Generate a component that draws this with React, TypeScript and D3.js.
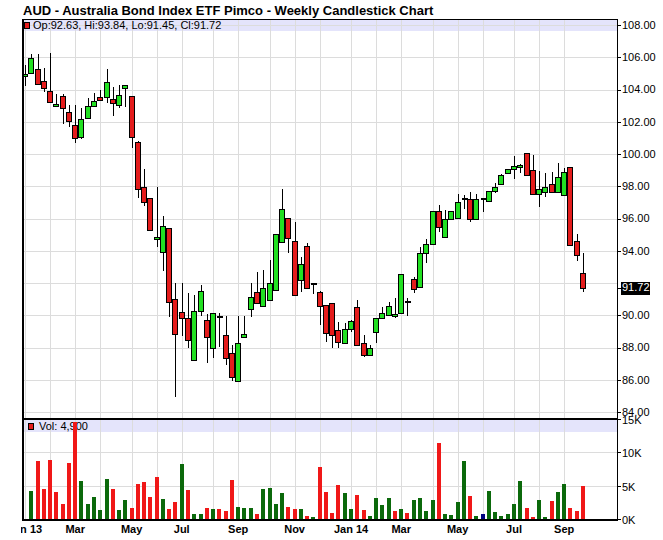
import React from "react";
import * as d3 from "d3";

const TITLE = "AUD - Australia Bond Index ETF Pimco - Weekly Candlestick Chart";
const START_DATE = new Date(2013, 0, 7);

const OPEN = [104.85, 105.0, 105.3, 104.51, 103.89, 102.96, 103.58, 102.6, 101.8, 101.04,
  102.21, 102.96, 103.52, 103.56, 103.39, 103.02, 104.07, 103.58, 100.76, 97.97,
  97.25, 94.75, 93.9, 95.4, 91.0, 90.18, 89.81, 87.22, 90.26, 89.7,
  87.95, 89.91, 88.76, 87.64, 85.94, 88.63, 90.37, 91.46, 90.59, 90.95,
  91.57, 94.52, 96.01, 94.6, 92.16, 94.28, 91.92, 91.42, 90.64, 90.74,
  89.07, 88.26, 89.13, 90.51, 88.26, 87.53, 88.94, 89.81, 89.99, 89.95,
  90.12, 90.84, 92.27, 91.73, 93.84, 94.4, 96.47, 94.83, 95.95, 96.01,
  97.2, 97.23, 95.95, 97.23, 97.1, 97.73, 98.12, 98.8, 99.05, 99.21,
  100.04, 99.0, 97.52, 97.63, 98.14, 97.66, 97.46, 99.17, 94.6, 92.63];
const HIGH = [105.5, 106.2, 106.2, 105.31, 106.24, 103.7, 103.7, 103.04, 103.04, 102.83,
  103.45, 103.76, 104.0, 105.25, 104.18, 104.28, 104.3, 103.58, 100.8, 99.05,
  97.25, 97.93, 96.15, 95.4, 91.98, 92.02, 91.38, 91.26, 91.88, 90.08,
  90.12, 90.12, 89.95, 88.16, 89.95, 89.95, 92.0, 92.66, 92.81, 93.43,
  95.02, 97.81, 96.01, 95.8, 93.6, 94.5, 91.92, 91.5, 90.64, 90.74,
  89.6, 89.5, 89.7, 90.95, 88.78, 88.16, 89.81, 90.49, 90.84, 91.09,
  92.54, 91.09, 92.4, 94.25, 94.71, 96.48, 96.84, 96.53, 96.47, 97.52,
  97.45, 97.62, 97.55, 97.23, 97.7, 98.22, 98.75, 99.1, 99.88, 99.4,
  100.04, 99.94, 98.95, 98.8, 98.9, 99.46, 99.11, 99.17, 95.04, 93.84];
const LOW = [104.2, 104.94, 104.3, 103.86, 103.14, 102.96, 101.84, 101.66, 100.7, 100.91,
  102.21, 102.96, 103.3, 103.14, 102.38, 102.87, 102.9, 100.35, 97.25, 96.76,
  95.27, 94.25, 92.76, 89.91, 84.95, 88.71, 87.95, 87.22, 89.95, 87.02,
  87.33, 88.05, 86.91, 85.94, 85.94, 88.57, 89.87, 90.74, 90.59, 90.95,
  91.57, 94.52, 93.84, 91.24, 91.46, 91.67, 91.3, 89.4, 88.36, 87.95,
  87.95, 88.26, 88.98, 88.16, 87.43, 87.53, 88.26, 89.81, 89.99, 89.85,
  90.12, 89.95, 91.36, 91.73, 93.22, 94.4, 95.18, 94.83, 95.95, 96.01,
  96.6, 95.8, 95.95, 96.42, 97.07, 97.6, 98.12, 98.8, 98.43, 98.8,
  98.7, 97.52, 96.73, 97.31, 97.66, 97.66, 97.46, 94.34, 93.38, 91.45];
const CLOSE = [104.95, 105.93, 104.32, 104.07, 103.2, 103.08, 102.83, 102.03, 100.97, 102.2,
  102.96, 103.27, 103.35, 104.45, 103.18, 103.64, 104.26, 101.04, 97.81, 97.04,
  95.29, 94.87, 95.55, 90.84, 88.82, 89.81, 88.47, 90.26, 91.49, 88.63,
  90.12, 89.91, 87.33, 86.19, 88.26, 88.82, 91.15, 90.74, 91.67, 91.98,
  95.02, 96.57, 94.77, 91.24, 93.15, 91.67, 91.92, 90.59, 88.92, 88.78,
  88.36, 89.13, 89.64, 88.16, 87.53, 87.95, 89.81, 90.12, 90.55, 90.08,
  92.54, 90.84, 91.63, 93.84, 94.4, 96.48, 95.45, 95.95, 96.47, 97.0,
  97.2, 95.95, 97.23, 97.23, 97.7, 97.97, 98.7, 99.05, 99.26, 99.32,
  98.7, 97.52, 97.81, 97.97, 97.66, 98.55, 98.86, 94.34, 93.72, 91.72];
const VOLUME_K = [0, 4.2, 8.7, 4.5, 8.85, 4.05, 2.25, 8.45, 14.5, 5.7,
  2.25, 3.25, 1.35, 6.0, 4.5, 1.35, 2.85, 1.65, 5.25, 5.55,
  3.3, 6.3, 3.0, 1.5, 2.55, 8.25, 4.35, 0.75, 0.75, 1.65,
  1.5, 1.5, 1.2, 5.85, 1.8, 1.65, 1.65, 0.75, 4.5, 4.65,
  2.25, 3.9, 1.8, 1.5, 1.5, 0.45, 0.3, 7.8, 4.05, 0.9,
  5.1, 3.9, 1.5, 3.6, 1.4, 0.45, 3.15, 2.1, 3.15, 1.25,
  1.5, 0.95, 2.85, 3.15, 1.25, 2.85, 11.4, 0.75, 0.6, 2.55,
  8.7, 3.45, 0.45, 0.75, 4.2, 1.05, 0.45, 0.75, 2.25, 5.7,
  1.65, 0.3, 2.85, 0.3, 2.7, 4.05, 5.25, 1.65, 1.25, 4.9];

const PRICE_TICKS = [84, 86, 88, 90, 92, 94, 96, 98, 100, 102, 104, 106, 108];
const VOLUME_TICKS = [0, 5, 10, 15];
const VOLUME_TICK_LABELS = ["0K", "5K", "10K", "15K"];
const LEGEND_TEXT = "Op:92.63, Hi:93.84, Lo:91.45, Cl:91.72";
const VOLUME_LEGEND = "Vol: 4,900";

const FONT = "'Liberation Sans', Arial, Helvetica, sans-serif";
const GREEN = "#22e022";
const RED = "#e41c1c";
const VGREEN = "#0b690b";
const VRED = "#f01818";
const VNAVY = "#000080";
const GRID = "#dcdcdc";
const BAND = "#e4e4fb";

export default function App() {
  const W = 663, H = 540;
  const left = 22, right = 617, top = 19, sep = 418.5, bottom = 519;
  const n = OPEN.length;
  const x = d3.scaleLinear().domain([0, n - 1]).range([25, 583]);
  const y = d3.scaleLinear().domain([84, 108]).range([412, 25]);
  const yv = d3.scaleLinear().domain([0, 15]).range([519, 419]);
  const dates = OPEN.map((_, i) => d3.timeWeek.offset(START_DATE, i));
  const monthStarts = dates
    .map((d, i) => ({ d, i }))
    .filter(({ d, i }) => i === 0 || d.getMonth() !== dates[i - 1].getMonth());
  const fmtJan = d3.timeFormat("%b %y");
  const fmtMon = d3.timeFormat("%b");
  const labels = monthStarts.filter(({ d }) => d.getMonth() % 2 === 0);
  const fmt = d3.format(".2f");
  const last = CLOSE[n - 1];
  const px = (i: number) => Math.round(x(i));

  return (
    <div style={{ position: "absolute", left: 0, top: 0, width: W, height: H, background: "#fff" }}>
      <svg width={W} height={H} style={{ display: "block", fontFamily: FONT }}>
        <defs>
          <clipPath id="xlab">
            <rect x={21} y={500} width={W - 21} height={40} />
          </clipPath>
        </defs>
        <rect x={0} y={0} width={W} height={H} fill="#fff" />
        <text x={23} y={15} fontSize={13} fontWeight="bold" fill="#000">{TITLE}</text>

        {/* main panel bands and grid */}
        <rect x={left} y={top} width={right - left} height={12} fill={BAND} />
        <rect x={left} y={420} width={right - left} height={12} fill={BAND} />
        <g shapeRendering="crispEdges" stroke={GRID} strokeWidth={1}>
          {PRICE_TICKS.map((t) => (
            <line key={"h" + t} x1={left} x2={right} y1={Math.round(y(t)) + 0.5} y2={Math.round(y(t)) + 0.5} />
          ))}
          {VOLUME_TICKS.slice(1).map((t) => (
            <line key={"hv" + t} x1={left} x2={right} y1={Math.round(yv(t)) + 0.5} y2={Math.round(yv(t)) + 0.5} />
          ))}
          {monthStarts.map(({ i }) => (
            <g key={"v" + i}>
              <line x1={px(i) + 0.5} x2={px(i) + 0.5} y1={top} y2={sep} />
              <line x1={px(i) + 0.5} x2={px(i) + 0.5} y1={sep} y2={bottom} />
            </g>
          ))}
        </g>

        {/* legend */}
        <rect x={24.5} y={22.5} width={5} height={6} fill={RED} stroke="#000" strokeWidth={1} shapeRendering="crispEdges" />
        <text x={33} y={29} fontSize={11} fill="#000">{LEGEND_TEXT}</text>

        {/* candles */}
        <g shapeRendering="crispEdges">
          {OPEN.map((o, i) => {
            const c = CLOSE[i];
            const cx = px(i);
            const wx = cx + 0.5;
            const yH = y(HIGH[i]);
            const yL = y(LOW[i]);
            if (Math.abs(o - c) < 1e-9) {
              return (
                <g key={"c" + i}>
                  <line x1={wx} x2={wx} y1={yH} y2={yL} stroke="#000" strokeWidth={1} />
                  <rect x={cx - 2} y={Math.round(y(c)) - 1} width={6} height={2} fill="#000" />
                </g>
              );
            }
            const yTop = Math.round(y(Math.max(o, c))) + 0.5;
            const yBot = Math.round(y(Math.min(o, c))) + 0.5;
            return (
              <g key={"c" + i}>
                <line x1={wx} x2={wx} y1={yH} y2={yL} stroke="#000" strokeWidth={1} />
                <rect
                  x={cx - 2.5}
                  y={yTop}
                  width={5}
                  height={Math.max(yBot - yTop, 1)}
                  fill={c > o ? GREEN : RED}
                  stroke="#000"
                  strokeWidth={1}
                />
              </g>
            );
          })}
        </g>

        {/* volume legend */}
        <rect x={28.5} y={423.5} width={5} height={6} fill={RED} stroke="#000" strokeWidth={1} shapeRendering="crispEdges" />
        <text x={39} y={430} fontSize={11} fill="#000">{VOLUME_LEGEND}</text>

        {/* volume bars */}
        <g shapeRendering="crispEdges">
          {VOLUME_K.map((v, i) => {
            if (i === 0 || v <= 0) return null;
            const d = CLOSE[i] - CLOSE[i - 1];
            const col = Math.abs(d) < 1e-9 ? VNAVY : d > 0 ? VGREEN : VRED;
            const yt = yv(v);
            return <rect key={"vb" + i} x={px(i) - 2} y={yt} width={4} height={yv(0) - yt} fill={col} />;
          })}
        </g>

        {/* frame */}
        <g shapeRendering="crispEdges" stroke="#000">
          <line x1={left} x2={right} y1={top + 0.5} y2={top + 0.5} strokeWidth={1} />
          <line x1={left + 0.5} x2={left + 0.5} y1={top} y2={bottom + 1} strokeWidth={2} />
          <line x1={right + 0.5} x2={right + 0.5} y1={top} y2={bottom + 1} strokeWidth={1} />
          <line x1={left} x2={right + 1} y1={sep} y2={sep} strokeWidth={2} />
          <line x1={left} x2={right + 1} y1={bottom + 0.5} y2={bottom + 0.5} strokeWidth={2} />
        </g>

        {/* right price axis */}
        <g fontSize={11} fill="#000">
          {PRICE_TICKS.filter((t) => Math.abs(t - last) > 0.6).map((t) => (
            <g key={"pt" + t}>
              <line x1={right} x2={right + 4} y1={Math.round(y(t)) + 0.5} y2={Math.round(y(t)) + 0.5} stroke="#000" shapeRendering="crispEdges" />
              <text x={622} y={y(t)} dy="0.35em">{fmt(t)}</text>
            </g>
          ))}
          <line x1={right} x2={right + 4} y1={Math.round(y(last)) + 0.5} y2={Math.round(y(last)) + 0.5} stroke="#000" shapeRendering="crispEdges" />
          <rect x={621} y={Math.round(y(last)) - 6} width={29} height={13} fill="#000" />
          <text x={622} y={y(last)} dy="0.35em" fill="#fff">{fmt(last)}</text>
        </g>

        {/* right volume axis */}
        <g fontSize={11} fill="#000">
          {VOLUME_TICKS.map((t, k) => (
            <g key={"vt" + t}>
              <line x1={right} x2={right + 4} y1={Math.round(yv(t)) + 0.5} y2={Math.round(yv(t)) + 0.5} stroke="#000" shapeRendering="crispEdges" />
              <text x={622} y={yv(t) + 1} dy="0.35em">{VOLUME_TICK_LABELS[k]}</text>
            </g>
          ))}
        </g>

        {/* x axis labels */}
        <g clipPath="url(#xlab)" fontSize={11} fontWeight="bold" fill="#000" textAnchor="middle">
          {labels.map(({ d, i }) => (
            <text key={"xl" + i} x={x(i)} y={533}>
              {d.getMonth() === 0 ? fmtJan(d) : fmtMon(d)}
            </text>
          ))}
        </g>
      </svg>
    </div>
  );
}
